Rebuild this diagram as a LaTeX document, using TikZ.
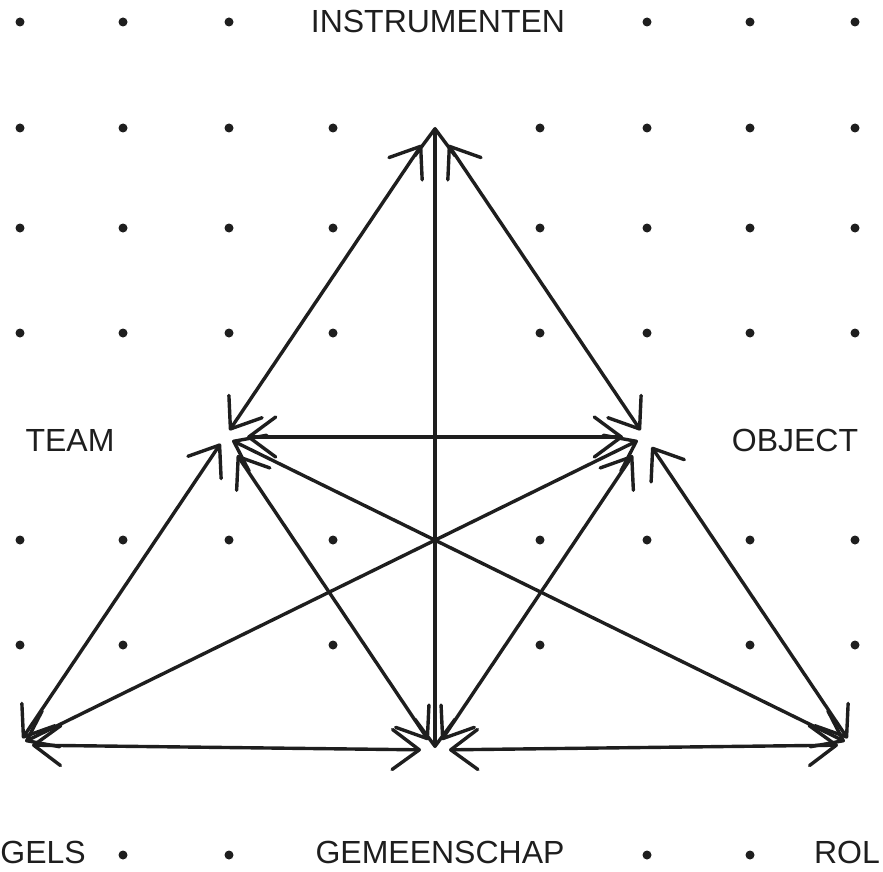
\documentclass[tikz,border=0pt]{standalone}
\usepackage{fontspec}
\setmainfont{Liberation Sans}
\usetikzlibrary{arrows.meta}
\definecolor{ink}{HTML}{1E1E1E}
\begin{document}
\begin{tikzpicture}[x=1pt,y=-1pt,
  tip/.tip={Straight Barb[length=27pt,width=40pt,line width=3.4pt,round]},
  link/.style={draw=ink,line width=3.4pt,line cap=round,tip-tip,
    shorten <=8pt,shorten >=8pt},
  dot/.style={fill=ink},
  lbl/.style={font=\fontsize{32}{32}\selectfont,text=ink,inner sep=0pt,anchor=base}]
\useasboundingbox (0,0) rectangle (883,872);
% dot grid
\foreach \y/\xs in {22/{20,123,229,647,750,855},
  128/{20,123,229,333,540,647,750,855},
  228/{20,123,229,333,540,647,750,855},
  333/{20,123,229,333,540,647,750,855},
  540/{20,123,229,333,540,647,750,855},
  645/{20,123,333,540,750,855},
  855/{123,229,647,750}}{
  \foreach \x in \xs {\fill[dot] (\x,\y) circle (4.5pt);}
}
% vertices
\coordinate (T) at (435,125);
\coordinate (L) at (225,437);
\coordinate (R) at (645,437);
\coordinate (BL) at (18,745);
\coordinate (BC) at (435,750);
\coordinate (BR) at (852,745);
% labels
\node[lbl] (instr) at (438,33) {INSTRUMENTEN};
\node[lbl] (team) at (70,451) {TEAM};
\node[lbl] (obj) at (795,451) {OBJECT};
\node[lbl,anchor=base east] (regels) at (86,863) {GELS};
\node[lbl] (gem) at (440,863) {GEMEENSCHAP};
\node[lbl,anchor=base east] (rol) at (880,863) {ROL};
% connectors
\draw[link,shorten <=2pt,shorten >=2pt] (T) -- (BC);
\draw[link,shorten <=24pt] (T) -- (L);
\draw[link,shorten <=24pt] (T) -- (R);
\draw[link,shorten <=22pt,shorten >=22pt] (L) -- (R);
\draw[link] (L) -- (BL);
\draw[link,shorten <=22pt,shorten >=12pt] (L) -- (BC);
\draw[link] (L) -- (BR);
\draw[link] (R) -- (BL);
\draw[link,shorten <=22pt,shorten >=12pt] (R) -- (BC);
\draw[link,shorten <=12pt] (R) -- (BR);
\draw[link,shorten <=14pt,shorten >=14pt] (BL) -- (BC);
\draw[link,shorten <=14pt,shorten >=14pt] (BC) -- (BR);
\end{tikzpicture}
\end{document}
